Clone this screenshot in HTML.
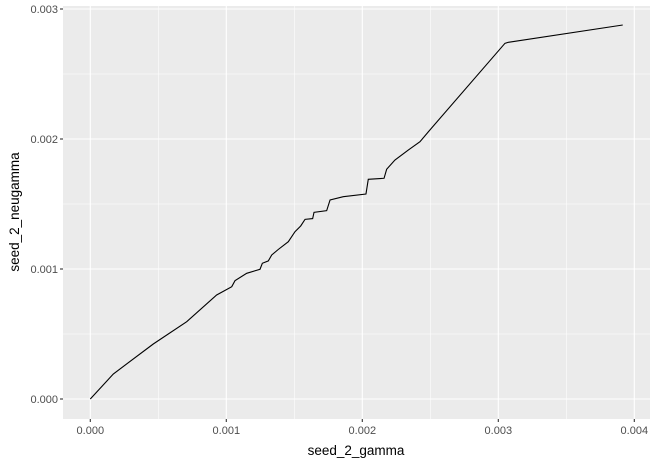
<!DOCTYPE html>
<html><head><meta charset="utf-8"><style>
body{margin:0;background:#fff;font-family:"Liberation Sans",Arial,sans-serif}
svg{display:block}
</style></head><body>
<svg id="chart" width="657" height="463">
</svg>
<script>
const xTicks=[0,0.001,0.002,0.003,0.004];
const xTickLabels=["0.000","0.001","0.002","0.003","0.004"];
const yTicks=[0,0.001,0.002,0.003];
const yTickLabels=["0.000","0.001","0.002","0.003"];
const xVals=[0,0.169,0.463,0.709,0.929,1.040,1.064,1.150,1.248,1.265,1.309,1.334,1.383,1.456,1.505,1.547,1.579,1.635,1.645,1.738,1.763,1.860,2.027,2.044,2.160,2.179,2.240,2.338,2.424,2.486,3.049,3.074,3.915].map(v=>v/1000);
const yVals=[0,0.192,0.423,0.595,0.800,0.864,0.910,0.967,0.998,1.044,1.062,1.108,1.151,1.210,1.287,1.331,1.382,1.388,1.436,1.449,1.531,1.556,1.577,1.690,1.698,1.767,1.838,1.915,1.979,2.056,2.736,2.744,2.877].map(v=>v/1000);

const NS="http://www.w3.org/2000/svg";
const svg=document.getElementById('chart');
const P={l:63,r:650,t:6,b:419};
const xs=v=>90.3+v*136000;
const ys=v=>399-v*130000;
function mk(tag,attrs,parent){const e=document.createElementNS(NS,tag);for(const k in attrs)e.setAttribute(k,attrs[k]);(parent||svg).appendChild(e);return e;}
const panel=mk('rect',{x:P.l,y:P.t,width:P.r-P.l,height:P.b-P.t,fill:'#ebebeb'});


const grid=mk('g',{});


for(let i=0;i<xTicks.length;i++){
  mk('line',{x1:xs(xTicks[i]),x2:xs(xTicks[i]),y1:P.t,y2:P.b,stroke:'#fff','stroke-width':1.1},grid);
  if(i<xTicks.length-1){const m=(xTicks[i]+xTicks[i+1])/2;if(xs(m)<P.r)mk('line',{x1:xs(m),x2:xs(m),y1:P.t,y2:P.b,stroke:'#fff','stroke-width':0.55},grid);}
}
for(let i=0;i<yTicks.length;i++){
  mk('line',{y1:ys(yTicks[i]),y2:ys(yTicks[i]),x1:P.l,x2:P.r,stroke:'#fff','stroke-width':1.1},grid);
  if(i<yTicks.length-1){const m=(yTicks[i]+yTicks[i+1])/2;mk('line',{y1:ys(m),y2:ys(m),x1:P.l,x2:P.r,stroke:'#fff','stroke-width':0.55},grid);}
}
const line=mk('polyline',{points:xVals.map((v,i)=>xs(v)+','+ys(yVals[i])).join(' '),fill:'none',stroke:'#000','stroke-width':1.1});


xTicks.forEach((v,i)=>{
  mk('line',{x1:xs(v),x2:xs(v),y1:P.b,y2:P.b+3,stroke:'#333','stroke-width':1.1});
  const t=mk('text',{x:xs(v),y:P.b+15,'text-anchor':'middle','font-size':11,fill:'#4d4d4d'});
  t.textContent=xTickLabels[i];
  
  
});
yTicks.forEach((v,i)=>{
  mk('line',{x1:P.l-3,x2:P.l,y1:ys(v),y2:ys(v),stroke:'#333','stroke-width':1.1});
  const t=mk('text',{x:P.l-5,y:ys(v)+4,'text-anchor':'end','font-size':11,fill:'#4d4d4d'});
  t.textContent=yTickLabels[i];
  
  
});
const xt=mk('text',{x:356,y:455,'text-anchor':'middle','font-size':13.5,fill:'#000'});
xt.textContent='seed_2_gamma';


const yt=mk('text',{x:0,y:0,'text-anchor':'middle','font-size':13.5,fill:'#000',transform:'translate(19,212) rotate(-90)'});
yt.textContent='seed_2_neugamma';


</script>
</body></html>
